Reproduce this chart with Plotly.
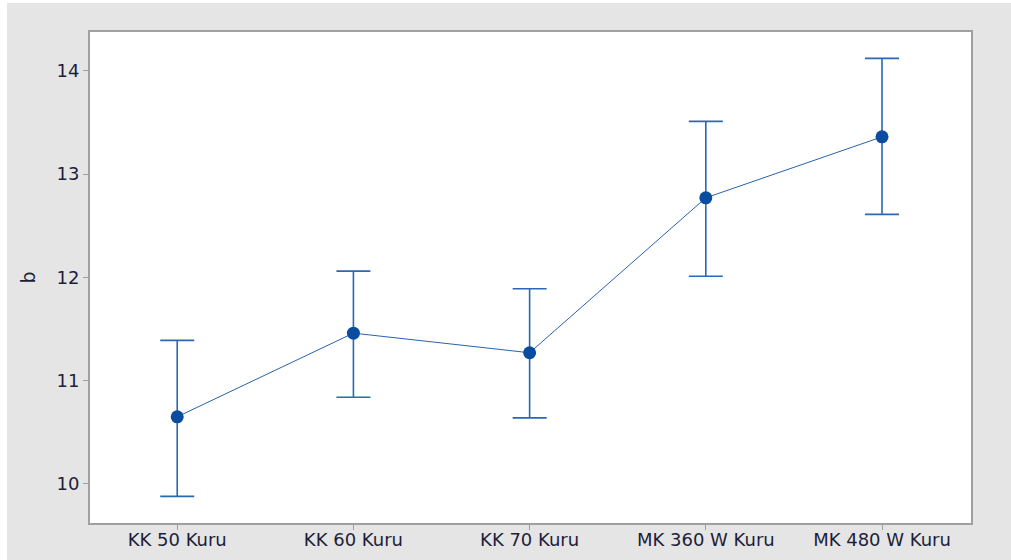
import plotly.graph_objects as go

categories = ["KK 50 Kuru", "KK 60 Kuru", "KK 70 Kuru", "MK 360 W Kuru", "MK 480 W Kuru"]
means = [10.65, 11.46, 11.27, 12.77, 13.36]
upper = [11.39, 12.06, 11.89, 13.51, 14.12]
lower = [9.88, 10.84, 10.64, 12.01, 12.61]
y_ticks = [10, 11, 12, 13, 14]

err_plus = [u - m for u, m in zip(upper, means)]
err_minus = [m - l for m, l in zip(means, lower)]
xs = list(range(len(categories)))

fig = go.Figure()
fig.add_trace(go.Scatter(
    x=xs, y=means, mode="lines+markers",
    line=dict(color="#2a62ae", width=1),
    marker=dict(color="#0a4da0", size=13),
    error_y=dict(type="data", symmetric=False, array=err_plus, arrayminus=err_minus,
                 color="#2a68b4", thickness=1.6, width=17),
    showlegend=False,
))

axis_font = dict(family="DejaVu Sans, sans-serif", size=18, color="#1e1e3a")
fig.update_layout(
    width=1011, height=560,
    margin=dict(l=90, r=40, t=32, b=37),
    paper_bgcolor="#e5e5e5",
    plot_bgcolor="white",
    xaxis=dict(
        range=[-0.495, 4.505], tickmode="array", tickvals=xs, ticktext=categories,
        showgrid=False, zeroline=False, ticks="outside", ticklen=5, tickcolor="#a0a0a0",
        showline=True, linecolor="#a0a0a0", linewidth=2, mirror=True,
        tickfont=axis_font, automargin=False, ticklabelstandoff=-6,
    ),
    yaxis=dict(
        range=[9.622, 14.375], tickmode="array", tickvals=y_ticks,
        showgrid=False, zeroline=False, ticks="outside", ticklen=5, tickcolor="#a0a0a0",
        showline=True, linecolor="#a0a0a0", linewidth=2, mirror=True,
        tickfont=axis_font, automargin=False,
        title=dict(text="b", font=dict(family="DejaVu Sans, sans-serif", size=19, color="#1e1e3a"), standoff=16),
    ),
    shapes=[
        dict(type="rect", xref="paper", yref="paper", x0=-0.2, x1=1.1, y0=1.0 + 29/491, y1=1.2,
             fillcolor="white", line=dict(width=0), layer="above"),
        dict(type="rect", xref="paper", yref="paper", x0=-0.2, x1=-83/881, y0=-0.2, y1=1.2,
             fillcolor="white", line=dict(width=0), layer="above"),
    ],
)

fig.write_html("out.html", config={"displayModeBar": False},
               post_script="document.body.style.margin='0';")
